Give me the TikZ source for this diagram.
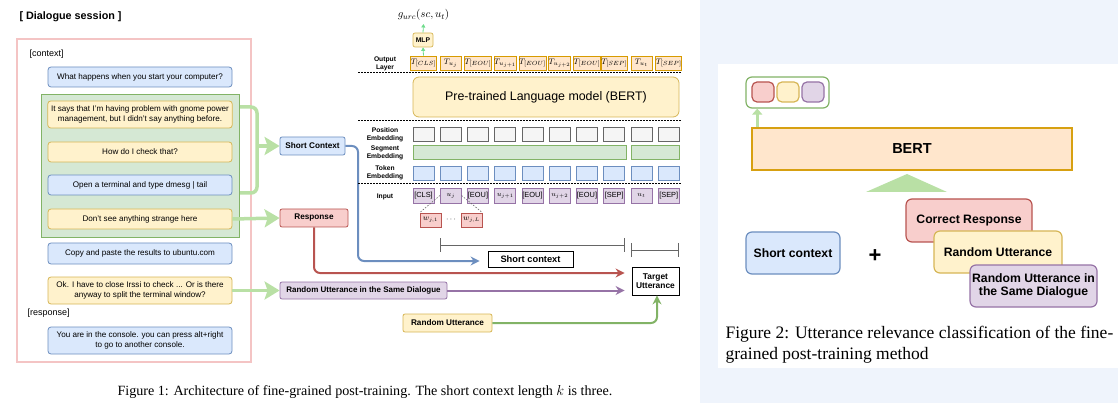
\documentclass[tikz,border=0pt]{standalone}
\usepackage{fontspec}
\setmainfont{Liberation Serif}
\setsansfont{Liberation Sans}
\usetikzlibrary{arrows.meta}

\definecolor{blueF}{HTML}{DAE8FC}
\definecolor{blueD}{HTML}{6C8EBF}
\definecolor{yelF}{HTML}{FFF2CC}
\definecolor{yelD}{HTML}{D6B656}
\definecolor{grnF}{HTML}{D5E8D4}
\definecolor{grnD}{HTML}{82B366}
\definecolor{redF}{HTML}{F8CECC}
\definecolor{redD}{HTML}{B85450}
\definecolor{purF}{HTML}{E1D5E7}
\definecolor{purD}{HTML}{9673A6}
\definecolor{orF}{HTML}{FFE6CC}
\definecolor{orD}{HTML}{D79B00}
\definecolor{gryF}{HTML}{F5F5F5}
\definecolor{gryD}{HTML}{666666}
\definecolor{pinkD}{HTML}{F4C4C4}
\definecolor{brkG}{HTML}{B9E0A5}
\definecolor{mint}{HTML}{6FDC8C}
\definecolor{bgBlue}{HTML}{EFF4FC}

\tikzset{
  utt/.style={draw, rounded corners=3pt, line width=0.8pt, minimum width=184pt, align=center,
    font=\sffamily\fontsize{8.1}{9.6}\selectfont},
  ublue/.style={utt, fill=blueF, draw=blueD},
  uyel/.style={utt, fill=yelF, draw=yelD},
  tag/.style={draw, rounded corners=2pt, line width=0.8pt, align=center,
    font=\sffamily\bfseries\fontsize{8.2}{9.2}\selectfont},
  tokbox/.style={draw, line width=0.7pt, minimum width=21pt, minimum height=14pt, inner sep=0pt,
    font=\sffamily\fontsize{7.4}{8}\selectfont},
  rowlab/.style={align=center, font=\sffamily\bfseries\fontsize{6.7}{7.6}\selectfont},
  sep/.style={dash pattern=on 1.5pt off 1.5pt, line width=0.6pt},
  conn/.style={line width=2pt, rounded corners=6pt, -{Stealth[length=9pt,width=9pt]}},
  brk/.style={line width=3.5pt, draw=brkG, rounded corners=6pt},
  brkarrow/.style={brk, -{Stealth[length=15pt,width=18pt,inset=3pt]}},
  dim/.style={line width=0.8pt, draw=gryD, {Bar[width=14pt]}-{Bar[width=14pt]}},
  big/.style={draw, rounded corners=6pt, line width=1.2pt, align=center,
    font=\sffamily\bfseries\fontsize{12.2}{13.5}\selectfont},
  figcap/.style={font=\rmfamily\fontsize{14.1}{16}\selectfont}
}

\begin{document}
\begin{tikzpicture}[x=1pt,y=-1pt]
\useasboundingbox (0,0) rectangle (1118,403);

% ---- dialogue session
\node[anchor=west, font=\sffamily\bfseries\fontsize{10.8}{12}\selectfont] (title) at (16,17) {[ Dialogue session ]};
\node[draw=pinkD, line width=1.8pt, minimum width=234pt, minimum height=323pt, anchor=north west] (session) at (16,38) {};
\node[fill=grnF, draw=grnD, line width=0.6pt, minimum width=198pt, minimum height=143pt, anchor=north west] (grp) at (41,94) {};
\node[anchor=west, font=\sffamily\fontsize{9}{10}\selectfont] (ctxlab) at (26,54) {[context]};
\node[anchor=west, font=\sffamily\fontsize{9}{10}\selectfont] (resplab) at (24,313) {[response]};

\node[ublue, minimum height=20pt] (u1) at (140,77) {What happens when you start your computer?};
\node[uyel, minimum height=27pt] (u2) at (140,114.5) {It says that I'm having problem with gnome power\\management, but I didn't say anything before.};
\node[uyel, minimum height=20pt] (u3) at (140,152) {How do I check that?};
\node[ublue, minimum height=20pt] (u4) at (140,185) {Open a terminal and type dmesg | tail};
\node[uyel, minimum height=20pt] (u5) at (140,219) {Don't see anything strange here};
\node[ublue, minimum height=21pt] (u6) at (140,253.5) {Copy and paste the results to ubuntu.com};
\node[uyel, minimum height=27pt] (u7) at (140,290.5) {Ok. I have to close Irssi to check ... Or is there\\anyway to split the terminal window?};
\node[ublue, minimum height=27pt] (u8) at (140,340.5) {You are in the console. you can press alt+right\\to go to another console.};

% ---- samples
\node[tag, fill=blueF, draw=blueD, minimum width=65pt, minimum height=18pt] (sc) at (312.5,146) {Short Context};
\node[tag, fill=redF, draw=redD, minimum width=68pt, minimum height=18pt] (resp) at (314,218) {Response};
\node[tag, fill=purF, draw=purD, minimum width=167pt, minimum height=17pt, inner sep=0pt, font=\sffamily\bfseries\fontsize{8}{9}\selectfont] (rsd) at (363.5,290.5) {Random Utterance in the Same Dialogue};
\node[tag, fill=yelF, draw=yelD, minimum width=89pt, minimum height=18pt, font=\sffamily\bfseries\fontsize{8.2}{9}\selectfont] (ru) at (447.5,323) {Random Utterance};
\node[tag, rounded corners=0pt, fill=white, draw=black, minimum width=85pt, minimum height=16pt, font=\sffamily\bfseries\fontsize{9.3}{10}\selectfont] (shortctx) at (530.5,259) {Short context};
\node[tag, rounded corners=0pt, fill=white, draw=black, minimum width=47pt, minimum height=28pt, inner sep=0pt, font=\sffamily\bfseries\fontsize{8.4}{9.6}\selectfont] (target) at (655.5,281) {Target\\Utterance};

\draw[brk] (240,107) -| (257,193) -- (240,193);
\draw[brkarrow] (257,146) -- (sc.west);
\draw[brkarrow] (u5.east) -- (resp.west);
\draw[brkarrow] (u7.east) -- (rsd.west);

\draw[conn, blueD, shorten >=8pt] (sc.east) -| (358,261) -- (shortctx.west |- 0,261);
\draw[conn, redD, shorten >=7pt] (resp.south) |- ([yshift=8pt]target.west);
\draw[conn, purD, shorten >=7pt] (rsd.east) -- (rsd.east -| target.west);
\draw[conn, grnD] (ru.east) -| ([xshift=1.5pt]target.south);

\draw[dim] (440,245) -- (625,245);
\draw[dim] (631,250) -- (679,250);

% ---- BERT input
\foreach \y in {72,120,183}
  \draw[sep] (358,\y) -- (682,\y);

\node[rowlab] (lout) at (385,64) {Output\\Layer};
\node[rowlab] (lpos) at (385,134.5) {Position\\Embedding};
\node[rowlab] (lseg) at (385,153) {Segment\\Embedding};
\node[rowlab] (ltok) at (385,173) {Token\\Embedding};
\node[rowlab] (lin) at (385,197) {Input};

\foreach \i/\lab in {1/{[CLS]},2/{u_j},3/{[EOU]},4/{u_{j+1}},5/{[EOU]},6/{u_{j+2}},7/{[EOU]},8/{[SEP]},9/{u_t},10/{[SEP]}}
  \node[tokbox, fill=orF, draw=orD, font=\fontsize{8.4}{9}\selectfont] (out\i) at ({423.5+27.25*(\i-1)},63) {$T_{\lab}$};
\foreach \i in {1,...,10} {
  \node[tokbox, fill=gryF, draw=gryD] (pos\i) at ({423.5+27.25*(\i-1)},134) {};
  \node[tokbox, fill=blueF, draw=blueD] (tok\i) at ({423.5+27.25*(\i-1)},173) {};
}
\foreach \i/\lab in {1/{[CLS]},2/{$u_j$},3/{[EOU]},4/{$u_{j+1}$},5/{[EOU]},6/{$u_{j+2}$},7/{[EOU]},8/{[SEP]},9/{$u_t$},10/{[SEP]}}
  \node[tokbox, fill=purF, draw=purD, minimum height=15pt] (in\i) at ({423.5+27.25*(\i-1)},195.5) {\lab};

\node[tokbox, fill=grnF, draw=grnD, minimum width=213pt, anchor=west] (seg1) at (413,152) {};
\node[tokbox, fill=grnF, draw=grnD, minimum width=48pt, anchor=west] (seg2) at (631,152) {};

\node[draw=yelD, fill=yelF, line width=0.8pt, rounded corners=6pt, minimum width=266pt, minimum height=40pt,
  font=\sffamily\fontsize{12.4}{14}\selectfont] (bert) at (546,97) {Pre-trained Language model (BERT)};

\node[tokbox, fill=yelF, draw=yelD, rounded corners=2pt, minimum width=20pt, font=\sffamily\bfseries\fontsize{6.8}{7}\selectfont] (mlp) at (423,40) {MLP};
\node[font=\fontsize{10.8}{12}\selectfont] (gurc) at (423.5,15) {$g_{urc}(sc,u_t)$};
\draw[mint, line width=0.8pt, -{Triangle[length=3.5pt,width=4pt]}] (out1.north) -- (mlp.south);
\draw[mint, line width=0.8pt, -{Triangle[length=3.5pt,width=4pt]}] (mlp.north) -- (gurc.south);

\node[tokbox, fill=redF, draw=redD, font=\fontsize{7.6}{8}\selectfont] (w1) at (430.5,220) {$w_{j,1}$};
\node[tokbox, fill=redF, draw=redD, font=\fontsize{7.6}{8}\selectfont] (wL) at (471.5,220) {$w_{j,L}$};
\node[font=\fontsize{7.6}{8}\selectfont] (wdots) at (451,220) {$\cdots$};
\draw[sep, gryD] (in2.west) -- (w1.north west);
\draw[sep, gryD] (in2.east) -- (wL.north east);

\node[figcap] (cap1) at (365,392) {Figure 1: Architecture of fine-grained post-training. The short context length $k$ is three.};

% ---- utterance relevance classification
\fill[bgBlue] (700,0) rectangle (1118,403);
\fill[white] (718,64) rectangle (1118,368);

\node[draw=grnD, fill=white, line width=1.2pt, rounded corners=6pt, minimum width=83pt, minimum height=31pt] (clsout) at (787.5,92.5) {};
\node[draw=redD, fill=redF, line width=1.2pt, rounded corners=5pt, minimum width=22pt, minimum height=20pt] (c1) at (763,92) {};
\node[draw=yelD, fill=yelF, line width=1.2pt, rounded corners=5pt, minimum width=22pt, minimum height=20pt] (c2) at (788,92) {};
\node[draw=purD, fill=purF, line width=1.2pt, rounded corners=5pt, minimum width=22pt, minimum height=20pt] (c3) at (813,92) {};

\node[draw=orD!80!yelD, fill=orF, line width=1.5pt, minimum width=320pt, minimum height=42pt,
  font=\sffamily\bfseries\fontsize{14.5}{16}\selectfont] (bert2) at (912,149) {BERT};
\draw[brkG, line width=3pt, -{Triangle[length=6pt,width=10pt]}] ([xshift=6pt]bert2.north west) -- ([xshift=6pt]bert2.north west |- clsout.south);
\fill[brkG] (866,192) -- (907,174) -- (947,192) -- cycle;

\node[big, fill=blueF, draw=blueD, minimum width=94pt, minimum height=42pt] (sc2) at (793,253) {Short context};
\node[font=\sffamily\bfseries\fontsize{22}{22}\selectfont] (plus) at (875,256) {+};
\node[big, fill=redF, draw=redD, minimum width=126pt, minimum height=43pt] (cr2) at (969,220.5) {Correct Response};
\node[big, fill=yelF, draw=yelD, minimum width=128pt, minimum height=42pt] (ru2) at (998,252) {Random Utterance};
\node[big, fill=purF, draw=purD, minimum width=127pt, minimum height=42pt, inner sep=0pt] (rsd2) at (1033.5,286) {Random Utterance in\\the Same Dialogue};

\node[figcap, anchor=west, font=\rmfamily\fontsize{17.5}{19}\selectfont] (cap2a) at (722,334) {Figure 2: Utterance relevance classification of the fine-};
\node[figcap, anchor=west, font=\rmfamily\fontsize{17.5}{19}\selectfont] (cap2b) at (722,355) {grained post-training method};
\end{tikzpicture}
\end{document}
